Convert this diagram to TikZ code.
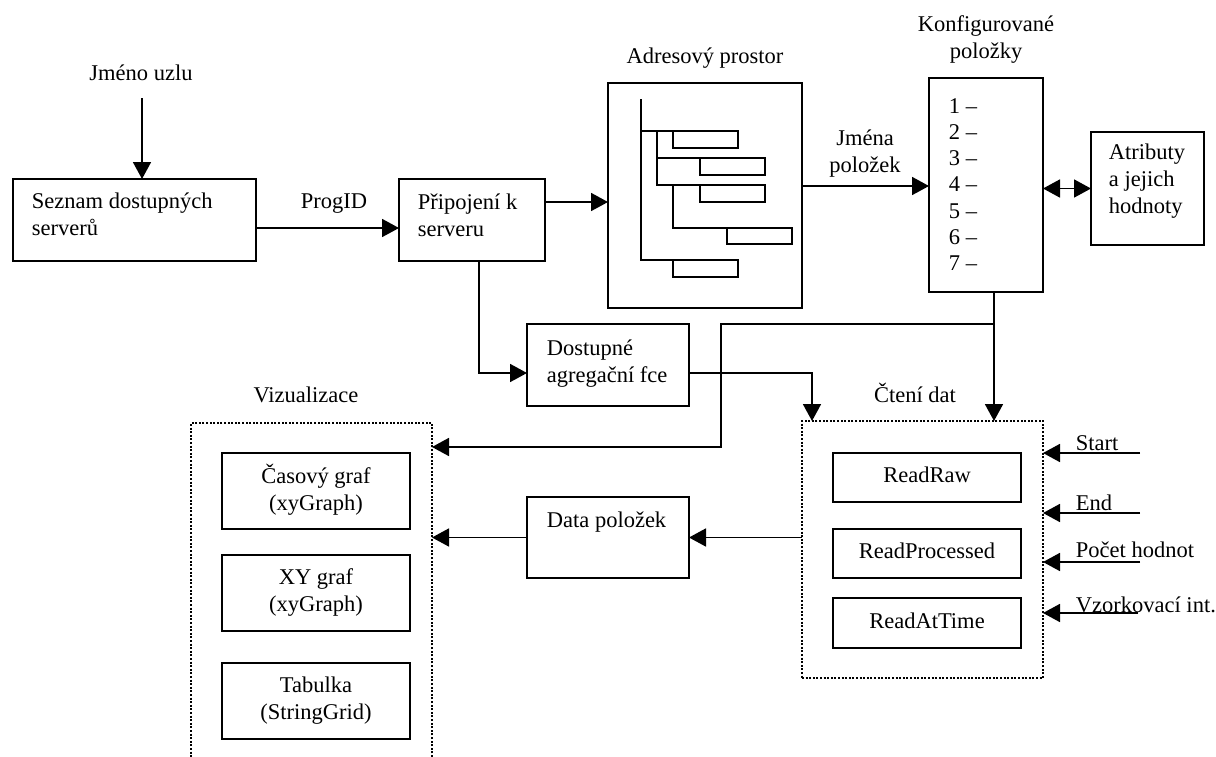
\documentclass[tikz,border=0pt]{standalone}
\usepackage{fontspec}
\setmainfont{Liberation Serif}
\usetikzlibrary{arrows.meta}
\newcommand{\fs}{\fontsize{22.5}{27}\selectfont}
\begin{document}
\begin{tikzpicture}[x=1pt,y=-1pt,
  line width=1.8pt,
  box/.style={draw, inner sep=0pt, outer sep=0pt, anchor=north west, font=\fs, align=center},
  dotbox/.style={box, dash pattern=on 2pt off 1.6pt, line width=1.8pt},
  txt/.style={inner sep=0pt, font=\fs, align=left, anchor=north west},
  ctxt/.style={inner sep=0pt, font=\fs, align=center},
  lbl/.style={inner sep=0pt, font=\fs, anchor=base},
  lblw/.style={inner sep=0pt, font=\fs, anchor=base west},
  arr/.style={-{Triangle[length=17pt,width=18pt]}},
  darr/.style={{Triangle[length=17pt,width=18pt]}-{Triangle[length=17pt,width=18pt]}},
]
\useasboundingbox (0,0) rectangle (1216,756);

% --- main blocks ---
\node[box, minimum width=243pt, minimum height=82pt] (seznam) at (13,179) {};
\node[box, minimum width=146pt, minimum height=82pt] (pripoj) at (399,179) {};
\node[box, minimum width=194pt, minimum height=225pt] (adres) at (608,83) {};
\node[box, minimum width=114pt, minimum height=214pt] (konfig) at (929,78) {};
\node[box, minimum width=113pt, minimum height=113pt] (atrib) at (1091,132) {};
\node[box, minimum width=162pt, minimum height=82pt] (dostup) at (527,324) {};
\node[box, minimum width=162pt, minimum height=81pt] (data) at (527,497) {};

% --- dotted groups ---
\node[dotbox, minimum width=241pt, minimum height=345pt] (vizual) at (191,423) {};
\node[dotbox, minimum width=241pt, minimum height=257pt] (cteni) at (802,421) {};

% --- visualisation blocks ---
\node[box, minimum width=188pt, minimum height=76pt] (casovy) at (222,453) {\strut Časový graf\\\strut (xyGraph)};
\node[box, minimum width=188pt, minimum height=76pt] (xygraf) at (222,555) {\strut XY graf\\\strut (xyGraph)};
\node[box, minimum width=188pt, minimum height=76pt] (tabulka) at (222,663) {\strut Tabulka\\\strut (StringGrid)};

% --- reading methods ---
\node[box, minimum width=188pt, minimum height=49pt] (readraw) at (833,453) {\strut ReadRaw};
\node[box, minimum width=188pt, minimum height=49pt] (readproc) at (833,529) {\strut ReadProcessed};
\node[box, minimum width=188pt, minimum height=50pt] (readat) at (833,598) {\strut ReadAtTime};

% --- texts inside blocks ---
\node[txt] (seznamT) at (31,189) {\strut Seznam dostupných\\\strut serverů};
\node[txt] (pripojT) at (417,190) {\strut Připojení k\\\strut serveru};
\node[txt] (dostupT) at (546,336) {\strut Dostupné\\\strut agregační fce};
\node[txt] (atribT) at (1108,140) {\strut Atributy\\\strut a jejich\\\strut hodnoty};
\node[lblw] (dataT) at (546,527) {Data položek};
\foreach \i in {1,...,7}
  \node[lblw] (item\i) at (948,{113+26.25*(\i-1)}) {\i\ –};

% --- address space tree ---
\node[box, minimum width=65pt, minimum height=17pt] (t1) at (673,131) {};
\node[box, minimum width=65pt, minimum height=17pt] (t2) at (700,158) {};
\node[box, minimum width=65pt, minimum height=17pt] (t3) at (700,185) {};
\node[box, minimum width=65pt, minimum height=16pt] (t4) at (727,228) {};
\node[box, minimum width=65pt, minimum height=17pt] (t5) at (673,260) {};
\coordinate (root) at (641,99);
\coordinate (b2) at (657,131);
\coordinate (b3) at (673,185);
\draw (root) |- (t5.north west);
\draw (root |- t1.north west) -- (t1.north west);
\draw (b2) |- (t2.north west);
\draw (b2) |- (t3.north west);
\draw (b3) |- (t4.north west);

% --- outside labels ---
\node[lbl] (uzelL) at (141,80) {Jméno uzlu};
\node[lbl] (progL) at (334,208) {ProgID};
\node[lbl] (adresL) at (705,63) {Adresový prostor};
\node[ctxt, anchor=north] (konfigL) at (986,12) {\strut Konfigurované\\\strut položky};
\node[ctxt, anchor=north] (jmenaL) at (865,126) {\strut Jména\\\strut položek};
\node[lbl] (vizL) at (306,402) {Vizualizace};
\node[lbl] (cteniL) at (915,402) {Čtení dat};
\node[lblw] (startL) at (1075,450) {Start};
\node[lblw] (endL) at (1075,510) {End};
\node[lblw] (pocetL) at (1075,557) {Počet hodnot};
\node[lblw] (vzorL) at (1075,612) {Vzorkovací int.};

% --- connectors ---
\coordinate (uzelTop) at (142,98);
\draw[arr] (uzelTop) -- (uzelTop |- seznam.north);
\draw[arr] ([yshift=-8pt]seznam.east) -- ([yshift=-8pt]pripoj.west);
\draw[arr] ([yshift=18pt]pripoj.east) -- ([yshift=18pt]pripoj.east -| adres.west);
\draw[arr] ([yshift=9.5pt]adres.east) -- ([yshift=9.5pt]adres.east -| konfig.west);
\draw[darr] (atrib.west -| konfig.east) -- (atrib.west);
\draw[arr] ([xshift=7pt]pripoj.south) |- ([yshift=-8pt]dostup.west);
\coordinate (dturn) at (812,373);
\draw[arr] ([yshift=-8pt]dostup.east) -| (dturn |- cteni.north);
\draw[arr] ([xshift=8pt]konfig.south) -- ([xshift=8pt]konfig.south |- cteni.north);
\coordinate (kbr) at (994,324);
\coordinate (kturn) at (721,447);
\draw[arr] (kbr) -| (kturn) -- (kturn -| vizual.east);
\draw[arr] (data.east -| cteni.west) -- (data.east);
\draw[arr] (data.west) -- (data.west -| vizual.east);

% --- query parameters ---
\coordinate (sIn) at (1140,453);
\coordinate (eIn) at (1140,513);
\coordinate (pIn) at (1140,562);
\coordinate (vIn) at (1138,613);
\draw[arr] (sIn) -- (sIn -| cteni.east);
\draw[arr] (eIn) -- (eIn -| cteni.east);
\draw[arr] (pIn) -- (pIn -| cteni.east);
\draw[arr] (vIn) -- (vIn -| cteni.east);
\end{tikzpicture}
\end{document}
